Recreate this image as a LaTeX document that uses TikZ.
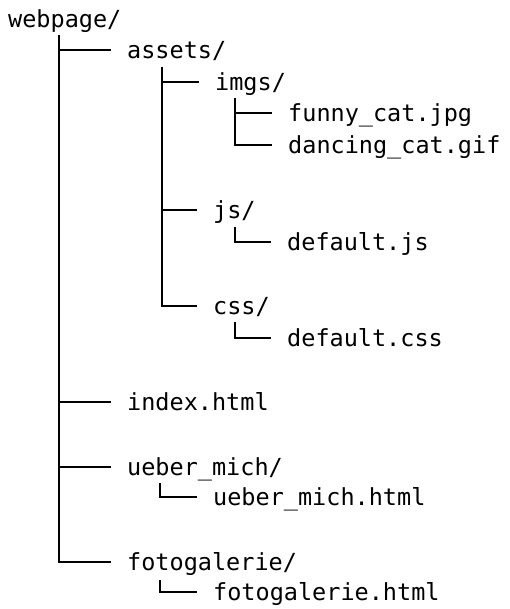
\documentclass[tikz,border=0pt]{standalone}
\usepackage{fontspec}
\setmonofont{DejaVu Sans Mono}
\usetikzlibrary{calc,positioning}
\tikzset{%
	entry/.style = {anchor=west, inner sep=0pt, font=\ttfamily\fontsize{23.5}{28}\selectfont, text height=19pt, text depth=2pt},
	link/.style  = {line width=2.1pt, shorten >=16pt},
}

\begin{document}
\begin{tikzpicture}[x=1pt,y=-1pt]
	\useasboundingbox (0,0) rectangle (510,609);
	
	\node[entry] (webpage)  at (8,19)    {webpage/};
	\node[entry] (assets)   at (127,50)  {assets/};
	\node[entry] (imgs)     at (215,82)  {imgs/};
	\node[entry] (funny)    at (288,113) {funny\_cat.jpg};
	\node[entry] (dancing)  at (288,145) {dancing\_cat.gif};
	\node[entry] (js)       at (213,210) {js/};
	\node[entry] (defjs)    at (287,242) {default.js};
	\node[entry] (css)      at (213,306) {css/};
	\node[entry] (defcss)   at (287,338) {default.css};
	\node[entry] (index)    at (127,402) {index.html};
	\node[entry] (ueber)    at (127,467) {ueber\_mich/};
	\node[entry] (ueberhtml) at (213,497) {ueber\_mich.html};
	\node[entry] (foto)     at (127,562) {fotogalerie/};
	\node[entry] (fotohtml) at (213,592) {fotogalerie.html};
	
	\coordinate (webpage-t) at (59,35);
	\coordinate (assets-t)  at (162,67);
	\coordinate (imgs-t)    at (235,98);
	\coordinate (js-t)      at (235,227);
	\coordinate (css-t)     at (235,322);
	\coordinate (ueber-t)   at (160,483);
	\coordinate (foto-t)    at (160,580);
	
	\draw[link] (webpage-t) |- (foto);
	\foreach \n in {assets,index,ueber} \draw[link] (webpage-t |- \n) -- (\n);
	
	\draw[link] (assets-t) |- (css);
	\foreach \n in {imgs,js} \draw[link] (assets-t |- \n) -- (\n);
	
	\draw[link] (imgs-t) |- (dancing);
	\draw[link] (imgs-t |- funny) -- (funny);
	
	\draw[link] (js-t) |- (defjs);
	\draw[link] (css-t) |- (defcss);
	\draw[link] (ueber-t) |- (ueberhtml);
	\draw[link] (foto-t) |- (fotohtml);
\end{tikzpicture}
\end{document}
